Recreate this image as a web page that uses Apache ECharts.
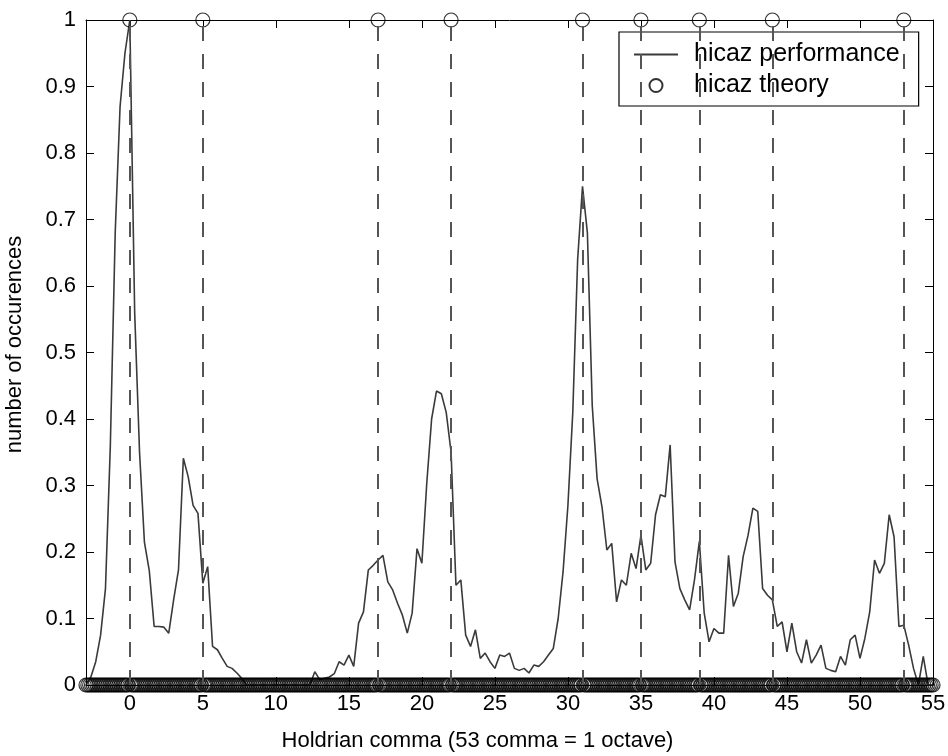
<!DOCTYPE html>
<html><head><meta charset="utf-8">
<script src="https://cdn.jsdelivr.net/npm/echarts@6/dist/echarts.min.js"></script>
<style>html,body{margin:0;padding:0;background:#fff}#c{width:948px;height:756px}</style>
</head><body><div id="c"></div>
<script>
// Performance sample grid: Holdrian commas from -3 to 55 in steps of 1/3 comma
const gridStart = -3;
const gridStepsPerComma = 3;
// Theory sample grid: -3 to 55 in steps of 1/8 comma
const theoryStepsPerComma = 8;
const theoryEnd = 55;

// hicaz performance (normalised number of occurences), one value per grid point
const performance = [
  0, 0.012, 0.035, 0.075, 0.145, 0.36, 0.68, 0.87, 0.95,          // -3 .. -0.33
  1.0, 0.56, 0.35, 0.215, 0.172, 0.088, 0.088, 0.087, 0.078,      // 0 .. 2.67
  0.128, 0.173, 0.341, 0.313, 0.27, 0.258,                         // 3 .. 4.67
  0.153, 0.178, 0.058, 0.053, 0.04, 0.028, 0.025, 0.018, 0.01,     // 5 .. 7.67
  0, 0, 0, 0, 0, 0, 0, 0, 0, 0, 0, 0, 0, 0,                        // 8 .. 12.33
  0.02, 0.008, 0.01, 0.012, 0.017, 0.035, 0.03,                    // 12.67 .. 14.67
  0.045, 0.028, 0.093, 0.11, 0.173, 0.18,                          // 15 .. 16.67
  0.188, 0.195, 0.155, 0.143, 0.123, 0.105,                        // 17 .. 18.67
  0.078, 0.108, 0.205, 0.183, 0.303, 0.40,                         // 19 .. 20.67
  0.442, 0.438, 0.41, 0.35, 0.15, 0.158,                           // 21 .. 22.67
  0.075, 0.058, 0.083, 0.04, 0.048, 0.035,                         // 23 .. 24.67
  0.025, 0.045, 0.043, 0.048, 0.025, 0.022,                        // 25 .. 26.67
  0.025, 0.018, 0.03, 0.028, 0.035, 0.045,                         // 27 .. 28.67
  0.055, 0.1, 0.17, 0.27, 0.41, 0.64,                              // 29 .. 30.67
  0.75, 0.68, 0.42, 0.31, 0.268, 0.203,                            // 31 .. 32.67
  0.213, 0.125, 0.158, 0.15, 0.198, 0.175,                         // 33 .. 34.67
  0.225, 0.173, 0.183, 0.256, 0.286, 0.283,                        // 35 .. 36.67
  0.361, 0.185, 0.145, 0.128, 0.113, 0.158,                        // 37 .. 38.67
  0.216, 0.108, 0.065, 0.085, 0.078, 0.078,                        // 39 .. 40.67
  0.195, 0.118, 0.138, 0.193, 0.225, 0.266,                        // 41 .. 42.67
  0.261, 0.145, 0.135, 0.128, 0.088, 0.095,                        // 43 .. 44.67
  0.05, 0.093, 0.05, 0.033, 0.068, 0.033,                          // 45 .. 46.67
  0.045, 0.06, 0.025, 0.022, 0.02, 0.043,                          // 47 .. 48.67
  0.03, 0.068, 0.075, 0.04, 0.07, 0.11,                            // 49 .. 50.67
  0.188, 0.168, 0.183, 0.256, 0.223, 0.088,                        // 51 .. 52.67
  0.09, 0.06, 0.025, 0.0, 0.043, 0.0,                              // 53 .. 54.67
  0.0                                                              // 55
];

// hicaz theory: commas where the scale has a degree (value 1), else 0
const theoryCommas = [0, 5, 17, 22, 31, 35, 39, 44, 53];

// tick labels
const xTickValues = [0, 5, 10, 15, 20, 25, 30, 35, 40, 45, 50, 55];

const perfData = performance.map((v, i) => [gridStart + i / gridStepsPerComma, v]);
const theoryData = [];
for (let k = gridStart * theoryStepsPerComma; k <= theoryEnd * theoryStepsPerComma; k++) {
  const x = k / theoryStepsPerComma;
  theoryData.push([x, theoryCommas.some(c => Math.abs(c - x) < 1e-6) ? 1 : 0]);
}

const FONT = 'Liberation Sans';
const chart = echarts.init(document.getElementById('c'), null, {renderer: 'canvas'});
const tickStyle = {show: true, inside: true, length: 8, lineStyle: {color: '#000', width: 1}};
chart.setOption({
  animation: false,
  backgroundColor: '#fff',
  grid: {left: 86, right: 15, top: 20, bottom: 71, containLabel: false, outerBoundsMode: 'none'},
  xAxis: [{
    type: 'value', min: -3, max: 55, position: 'bottom',
    axisLine: {show: true, onZero: false, lineStyle: {color: '#000', width: 1}},
    axisTick: Object.assign({customValues: xTickValues}, tickStyle),
    axisLabel: {customValues: xTickValues, margin: 8, fontSize: 22, fontFamily: FONT, color: '#000'},
    splitLine: {show: false},
    name: 'Holdrian comma (53 comma = 1 octave)', nameLocation: 'middle', nameGap: 45,
    nameTextStyle: {fontSize: 22, fontFamily: FONT, color: '#000', padding: [0, 64, 0, 0]}
  }, {
    type: 'value', min: -3, max: 55, position: 'top',
    axisLine: {show: true, onZero: false, lineStyle: {color: '#000', width: 1}},
    axisTick: Object.assign({customValues: xTickValues}, tickStyle),
    axisLabel: {show: false}, splitLine: {show: false}
  }],
  yAxis: [{
    type: 'value', min: 0, max: 1, interval: 0.1, position: 'left',
    axisLine: {show: true, onZero: false, lineStyle: {color: '#000', width: 1}},
    axisTick: tickStyle,
    axisLabel: {margin: 10, fontSize: 22, fontFamily: FONT, color: '#000'},
    splitLine: {show: false},
    name: 'number of occurences', nameLocation: 'middle', nameGap: 60,
    nameTextStyle: {fontSize: 22, fontFamily: FONT, color: '#000', padding: [0, 0, 0, 16]}
  }, {
    type: 'value', min: 0, max: 1, interval: 0.1, position: 'right',
    axisLine: {show: true, onZero: false, lineStyle: {color: '#000', width: 1}},
    axisTick: tickStyle,
    axisLabel: {show: false}, splitLine: {show: false}
  }],
  legend: {
    orient: 'vertical', left: 619, top: 32,
    padding: [10, 19, 8, 14],
    borderColor: '#000', borderWidth: 1.2, backgroundColor: '#fff',
    itemWidth: 44, itemHeight: 13, itemGap: 6,
    textStyle: {fontFamily: FONT, fontSize: 25, color: '#000', padding: [0, 0, 0, 11], lineHeight: 24},
    data: [
      {name: 'hicaz performance', itemStyle: {opacity: 0}},
      {name: 'hicaz theory', icon: 'circle'}
    ]
  },
  series: [{
    name: 'hicaz performance', type: 'line', data: perfData,
    showSymbol: false, symbol: 'none',
    lineStyle: {color: '#3a3a3a', width: 1.6},
    itemStyle: {color: '#3a3a3a'},
    z: 2
  }, {
    name: 'hicaz theory', type: 'scatter', data: theoryData,
    symbol: 'circle', symbolSize: 14,
    itemStyle: {color: 'rgba(0,0,0,0)', borderColor: '#000', borderWidth: 1.2},
    z: 3,
    markLine: {
      silent: true, symbol: 'none', label: {show: false},
      lineStyle: {color: '#555', width: 2, type: [15, 13]},
      data: theoryCommas.map(c => ({xAxis: c}))
    }
  }]
});
</script></body></html>
